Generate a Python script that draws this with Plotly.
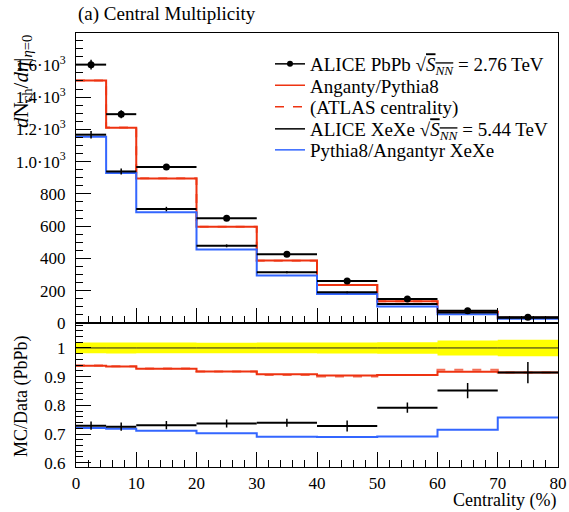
import plotly.graph_objects as go

# ---------------- data ----------------
bin_edges = [0, 5, 10, 20, 30, 40, 50, 60, 70, 80]
pbpb_data = [1601, 1294, 966, 649, 426, 261, 149, 76, 35]
pbpb_err = [30, 25, 18, 12, 8, 5, 3, 2, 1]
angantyr_pbpb = [1502, 1210, 896, 596, 387, 236, 135, 69.7, 32.0]
angantyr_pbpb_atlas = [1503, 1212, 897, 596, 386, 235, 135, 70.2, 32.0]
xexe_data = [1167, 939, 706, 478, 315, 190, 118, 64.7, 32.0]
xexe_err = [23, 19, 14, 9, 6, 5, 2.6, 2, 1.3]
angantyr_xexe = [1154, 929, 687, 456, 294, 180, 103, 54.3, 26.5]

top_tickvals = [0, 200, 400, 600, 800, 1000, 1200, 1400, 1600]
top_ticktext = ["0", "200", "400", "600", "800",
                "1.0·10<sup>3</sup>", "1.2·10<sup>3</sup>", "1.4·10<sup>3</sup>", "1.6·10<sup>3</sup>"]
ratio_tickvals = [0.6, 0.7, 0.8, 0.9, 1.0]
ratio_ticktext = ["0.6", "0.7", "0.8", "0.9", "1"]
x_tickvals = [0, 10, 20, 30, 40, 50, 60, 70, 80]

# ---------------- helpers ----------------
centers = [(a + b) / 2 for a, b in zip(bin_edges[:-1], bin_edges[1:])]
halfw = [(b - a) / 2 for a, b in zip(bin_edges[:-1], bin_edges[1:])]


def step(vals):
    return list(vals) + [vals[-1]]


def ratio(vals):
    return [v / d for v, d in zip(vals, pbpb_data)]


RED = "#ee3311"
BLUE = "#3366ff"
FONT = "Liberation Serif"

fig = go.Figure()

# ---------- top panel ----------
fig.add_trace(go.Scatter(x=bin_edges, y=step(angantyr_pbpb), mode="lines", line_shape="hv",
                         line=dict(color=RED, width=2), showlegend=False, xaxis="x", yaxis="y"))
fig.add_trace(go.Scatter(x=bin_edges, y=step(angantyr_pbpb_atlas), mode="lines", line_shape="hv",
                         line=dict(color=RED, width=2, dash="dash"), opacity=0.7,
                         showlegend=False, xaxis="x", yaxis="y"))
fig.add_trace(go.Scatter(x=bin_edges, y=step(angantyr_xexe), mode="lines", line_shape="hv",
                         line=dict(color=BLUE, width=2), showlegend=False, xaxis="x", yaxis="y"))
fig.add_trace(go.Scatter(x=centers, y=xexe_data, mode="markers",
                         marker=dict(size=1, color="black"),
                         error_x=dict(type="data", array=halfw, width=0, color="black", thickness=2),
                         error_y=dict(type="data", array=xexe_err, width=0, color="black", thickness=1.5),
                         showlegend=False, xaxis="x", yaxis="y"))
fig.add_trace(go.Scatter(x=centers, y=pbpb_data, mode="markers",
                         marker=dict(size=7, color="black"),
                         error_x=dict(type="data", array=halfw, width=0, color="black", thickness=2),
                         error_y=dict(type="data", array=pbpb_err, width=0, color="black", thickness=1.5),
                         showlegend=False, xaxis="x", yaxis="y"))

# ---------- ratio panel ----------
band_up = [1 + e / d for e, d in zip(pbpb_err, pbpb_data)]
band_lo = [1 - e / d for e, d in zip(pbpb_err, pbpb_data)]
fig.add_trace(go.Scatter(x=bin_edges, y=step(band_lo), mode="lines", line_shape="hv",
                         line=dict(color="#ffff00", width=0), showlegend=False,
                         xaxis="x2", yaxis="y2", hoverinfo="skip"))
fig.add_trace(go.Scatter(x=bin_edges, y=step(band_up), mode="lines", line_shape="hv",
                         line=dict(color="#ffff00", width=0), fill="tonexty", fillcolor="#ffff00",
                         showlegend=False, xaxis="x2", yaxis="y2", hoverinfo="skip"))
fig.add_trace(go.Scatter(x=bin_edges, y=step(ratio(pbpb_data)), mode="lines", line_shape="hv",
                         line=dict(color="#222222", width=1), showlegend=False, xaxis="x2", yaxis="y2"))
fig.add_trace(go.Scatter(x=bin_edges, y=step(ratio(angantyr_pbpb)), mode="lines", line_shape="hv",
                         line=dict(color=RED, width=2), showlegend=False, xaxis="x2", yaxis="y2"))
fig.add_trace(go.Scatter(x=bin_edges, y=step(ratio(angantyr_pbpb_atlas)), mode="lines", line_shape="hv",
                         line=dict(color=RED, width=2, dash="dash"), opacity=0.7,
                         showlegend=False, xaxis="x2", yaxis="y2"))
fig.add_trace(go.Scatter(x=bin_edges, y=step(ratio(angantyr_xexe)), mode="lines", line_shape="hv",
                         line=dict(color=BLUE, width=2), showlegend=False, xaxis="x2", yaxis="y2"))
fig.add_trace(go.Scatter(x=centers, y=ratio(xexe_data), mode="markers",
                         marker=dict(size=1, color="black"),
                         error_x=dict(type="data", array=halfw, width=0, color="black", thickness=2),
                         error_y=dict(type="data", array=[e / d for e, d in zip(xexe_err, pbpb_data)],
                                      width=0, color="black", thickness=1.5),
                         showlegend=False, xaxis="x2", yaxis="y2"))

W, H = 569, 512

# ---------- legend entries (one legend box per row for exact spacing) ----------
sq = "√<span style='text-decoration:overline'><i>S</i><sub><i>NN</i></sub></span>"
leg = [
    ("ALICE PbPb " + sq + " = 2.76 TeV", dict(color="black", width=1.5), "lines+markers"),
    ("Anganty/Pythia8", dict(color=RED, width=1.5), "lines"),
    ("(ATLAS centrality)", dict(color=RED, width=1.5, dash="dash"), "lines"),
    ("ALICE XeXe " + sq + " = 5.44 TeV", dict(color="black", width=1.5), "lines"),
    ("Pythia8/Angantyr XeXe", dict(color=BLUE, width=1.5), "lines"),
]
leg_rows_px = [64, 85.5, 107, 129, 150]
legend_layout = {}
for i, (name, ln, mode) in enumerate(leg):
    key = "legend" if i == 0 else f"legend{i + 1}"
    fig.add_trace(go.Scatter(x=[None], y=[None], mode=mode, name=name, line=ln,
                             marker=dict(size=6, color="black"), legend=key,
                             xaxis="x", yaxis="y"))
    legend_layout[key] = dict(x=270 / W, y=1 - leg_rows_px[i] / H, xanchor="left", yanchor="middle",
                              bgcolor="rgba(0,0,0,0)", borderwidth=0,
                              font=dict(family=FONT, size=19, color="black"))

xl, xr = 76 / W, 558 / W
top_lo, top_hi = 1 - 323 / H, 1 - 33 / H
bot_lo = 1 - 466.7 / H

axis_common = dict(showline=True, linecolor="black", linewidth=1, mirror=True,
                   showgrid=False, zeroline=False, ticks="inside", tickcolor="black",
                   tickwidth=1, ticklen=15, automargin=False,
                   tickfont=dict(family=FONT, size=17, color="black"))

fig.update_layout(
    width=W, height=H,
    margin=dict(l=0, r=0, t=0, b=0, autoexpand=False),
    paper_bgcolor="white", plot_bgcolor="white",
    font=dict(family=FONT, color="black"),
    showlegend=True,
    xaxis=dict(domain=[xl, xr], range=[0, 80], anchor="y", showticklabels=False,
               tickvals=x_tickvals, minor=dict(dtick=2, ticklen=7, ticks="inside", tickcolor="black"),
               **axis_common),
    yaxis=dict(domain=[top_lo, top_hi], range=[0, 1797], anchor="x",
               tickvals=top_tickvals, ticktext=top_ticktext, ticklabelstandoff=6,
               minor=dict(dtick=50, ticklen=7, ticks="inside", tickcolor="black"),
               **axis_common),
    xaxis2=dict(domain=[xl, xr], range=[0, 80], anchor="y2", matches="x",
                tickvals=x_tickvals, ticklabelstandoff=1,
                minor=dict(dtick=2, ticklen=7, ticks="inside", tickcolor="black"),
                **axis_common),
    yaxis2=dict(domain=[bot_lo, top_lo], range=[0.586, 1.087], anchor="x2",
                tickvals=ratio_tickvals, ticktext=ratio_ticktext, ticklabelstandoff=6,
                minor=dict(dtick=0.02, ticklen=7, ticks="inside", tickcolor="black"),
                **axis_common),
    annotations=[
        dict(text="(a) Central Multiplicity", x=xl, y=1 - 14 / H, xref="paper", yref="paper",
             xanchor="left", yanchor="middle", showarrow=False,
             font=dict(family=FONT, size=19, color="black")),
        dict(text="<i>d</i>N<sub>ch</sub>/<i>d</i><i>η</i>|<sub><i>η</i>=0</sub>", x=22 / W, y=1 - 82 / H,
             xref="paper", yref="paper", xanchor="center", yanchor="middle", textangle=-90,
             showarrow=False, font=dict(family=FONT, size=21, color="black")),
        dict(text="MC/Data (PbPb)", x=21 / W, y=1 - 396 / H, xref="paper", yref="paper",
             xanchor="center", yanchor="middle", textangle=-90, showarrow=False,
             font=dict(family=FONT, size=18, color="black")),
        dict(text="Centrality (%)", x=xr, y=1 - 500.5 / H, xref="paper", yref="paper",
             xanchor="right", yanchor="middle", showarrow=False,
             font=dict(family=FONT, size=18, color="black")),
    ],
    **legend_layout,
)

fig.write_html("out.html", config={"displayModeBar": False},
               post_script="document.body.style.margin='0';document.body.style.overflow='hidden';")
